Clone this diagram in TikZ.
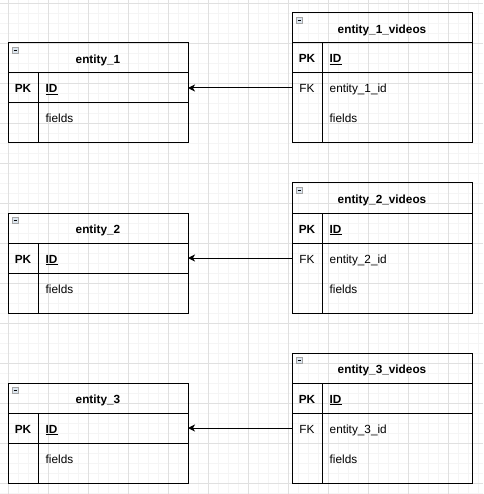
\documentclass[tikz,border=0pt]{standalone}
\usepackage{fontspec}
\setmainfont{Liberation Sans}
\usetikzlibrary{arrows.meta}
\definecolor{gridminor}{HTML}{F5F5F5}
\definecolor{gridmajor}{HTML}{E0E0E0}
\definecolor{iconfill}{HTML}{DCE6F0}
\tikzset{
  tbl/.style={draw=black, line width=1pt},
  txt/.style={inner sep=0pt, anchor=base, font=\fontsize{11.8}{14}\selectfont},
  title/.style={txt, font=\fontsize{11.8}{14}\selectfont\bfseries},
  keyb/.style={txt, font=\fontsize{11.8}{14}\selectfont\bfseries},
  fieldtxt/.style={txt, anchor=base west},
  icon/.style={draw=gray!70, fill=iconfill, line width=0.6pt},
  rel/.style={draw=black, line width=1pt, -{Stealth[length=7pt,width=7pt,inset=2pt]}}
}
\newcommand{\enttable}[4]{% name, x, y, title
  \draw[tbl] (#2,#3) rectangle ++(180,100);
  \draw[tbl] (#2,#3+30) -- ++(180,0);
  \draw[tbl] (#2,#3+60) -- ++(180,0);
  \draw[tbl] (#2+30,#3+30) -- ++(0,70);
  \draw[icon] (#2+4,#3+4) rectangle ++(6,6);
  \draw[line width=0.8pt] (#2+5.5,#3+7) -- ++(3,0);
  \node[title] (#1-title) at (#2+90,#3+20.7) {#4};
  \node[keyb] (#1-pk) at (#2+15,#3+50) {PK};
  \node[fieldtxt, font=\fontsize{11.8}{14}\selectfont\bfseries] (#1-idt) at (#2+37.5,#3+50) {\underline{ID}};
  \node[fieldtxt] (#1-fields) at (#2+37.5,#3+80) {fields};
  \coordinate (#1-id) at (#2+180,#3+45);
}
\newcommand{\vidtable}[5]{% name, x, y, title, fk
  \draw[tbl] (#2,#3) rectangle ++(180,130);
  \draw[tbl] (#2,#3+30) -- ++(180,0);
  \draw[tbl] (#2,#3+60) -- ++(180,0);
  \draw[tbl] (#2+30,#3+30) -- ++(0,100);
  \draw[icon] (#2+4,#3+4) rectangle ++(6,6);
  \draw[line width=0.8pt] (#2+5.5,#3+7) -- ++(3,0);
  \node[title] (#1-title) at (#2+90,#3+20.7) {#4};
  \node[keyb] (#1-pk) at (#2+15,#3+50) {PK};
  \node[fieldtxt, font=\fontsize{11.8}{14}\selectfont\bfseries] (#1-idt) at (#2+37.5,#3+50) {\underline{ID}};
  \node[txt] (#1-fkl) at (#2+15,#3+80) {FK};
  \node[fieldtxt] (#1-fkt) at (#2+37.5,#3+80) {#5};
  \node[fieldtxt] (#1-fields) at (#2+37.5,#3+110) {fields};
  \coordinate (#1-fk) at (#2,#3+75);
}
\begin{document}
\begin{tikzpicture}[x=1pt,y=-1pt]
\useasboundingbox (0,0) rectangle (483,494);
\fill[white] (0,0) rectangle (483,494);
\begin{scope}
\clip (0,0) rectangle (483,494);
\foreach \gx in {-2,8,...,482} \draw[gridminor, line width=0.8pt] (\gx,0) -- (\gx,494);
\foreach \gy in {3,13,...,493} \draw[gridminor, line width=0.8pt] (0,\gy) -- (483,\gy);
\foreach \gx in {8,48,...,482} \draw[gridmajor, line width=0.8pt] (\gx,0) -- (\gx,494);
\foreach \gy in {3,43,...,493} \draw[gridmajor, line width=0.8pt] (0,\gy) -- (483,\gy);
\end{scope}

\enttable{e1}{8}{43}{entity\_1}
\vidtable{v1}{292}{13}{entity\_1\_videos}{entity\_1\_id}
\enttable{e2}{8}{213}{entity\_2}
\vidtable{v2}{292}{183}{entity\_2\_videos}{entity\_2\_id}
\enttable{e3}{8}{383}{entity\_3}
\vidtable{v3}{292}{353}{entity\_3\_videos}{entity\_3\_id}

\draw[rel] (v1-fk) -- (e1-id);
\draw[rel] (v2-fk) -- (e2-id);
\draw[rel] (v3-fk) -- (e3-id);
\end{tikzpicture}
\end{document}
